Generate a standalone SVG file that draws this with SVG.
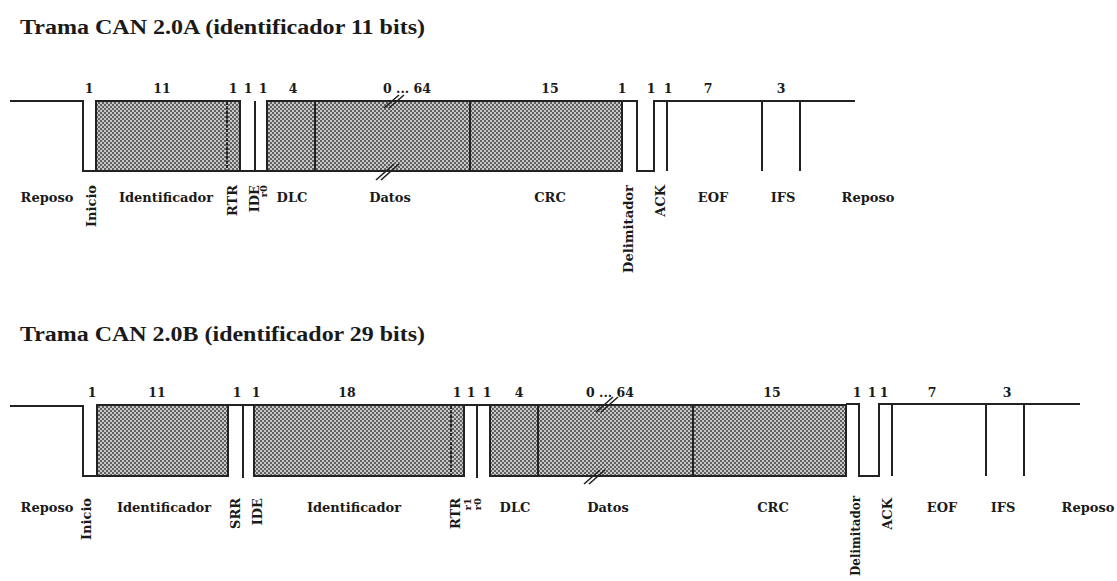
<svg xmlns="http://www.w3.org/2000/svg" width="1117" height="581" viewBox="0 0 1117 581">
<defs>
<pattern id="dots" width="4" height="4" patternUnits="userSpaceOnUse">
<rect width="4" height="4" fill="#c8c8c8"/>
<circle cx="1" cy="1" r="0.95" fill="#333"/>
<circle cx="3" cy="3" r="0.95" fill="#333"/>
</pattern>
</defs>
<style>
.title{font-family:"Liberation Serif","Times New Roman",serif;font-weight:bold;font-size:20px;fill:#1a1a1a}
.num{font-family:"DejaVu Serif","Liberation Serif",serif;font-weight:bold;font-size:12.5px;fill:#1a1a1a;text-anchor:middle}
.lbl{font-family:"DejaVu Serif","Liberation Serif",serif;font-weight:bold;font-size:13px;fill:#1a1a1a;text-anchor:middle}
.rot{font-family:"DejaVu Serif","Liberation Serif",serif;font-weight:bold;font-size:13px;fill:#1a1a1a;text-anchor:end}
.rsm{font-family:"DejaVu Serif","Liberation Serif",serif;font-weight:bold;font-size:10px;fill:#1a1a1a;text-anchor:end}
.box{fill:url(#dots);stroke:#222;stroke-width:2}
.wire{fill:none;stroke:#222;stroke-width:2}
.div{stroke:#222;stroke-width:2}
.dash{stroke:#222;stroke-width:2;stroke-dasharray:3,1.5}
.brk{stroke:#222;stroke-width:1.6}
</style>

<text class="title" x="20" y="34" textLength="405" lengthAdjust="spacingAndGlyphs">Trama CAN 2.0A (identificador 11 bits)</text>
<text class="title" x="20" y="341" textLength="405" lengthAdjust="spacingAndGlyphs">Trama CAN 2.0B (identificador 29 bits)</text>

<g id="frameA-connectors">
<path class="wire" d="M10,101 H83 V171 H267"/>
<line class="div" x1="255" y1="101" x2="255" y2="171"/>
<path class="wire" d="M622,101 H637 V171 H654 V101 H855"/>
<line class="div" x1="667" y1="101" x2="667" y2="171"/>
<line class="div" x1="762" y1="101" x2="762" y2="171"/>
<line class="div" x1="800" y1="101" x2="800" y2="171"/>
</g>
<g id="frameA-ident">
<rect class="box" x="96" y="101" width="144" height="70"/>
<line class="dash" x1="227" y1="102" x2="227" y2="170"/>
</g>
<g id="frameA-data">
<rect class="box" x="267" y="101" width="355" height="70"/>
<line class="div" x1="315" y1="101" x2="315" y2="171"/>
<line class="div" x1="470" y1="101" x2="470" y2="171"/>
<line class="brk" x1="384" y1="108" x2="399" y2="95"/>
<line class="brk" x1="389" y1="108" x2="404" y2="95"/>
<line class="brk" x1="376" y1="180" x2="394" y2="164"/>
<line class="brk" x1="381" y1="180" x2="399" y2="164"/>
</g>
<g id="frameA-numbers">
<text class="num" x="89" y="93">1</text>
<text class="num" x="162" y="93">11</text>
<text class="num" x="233" y="93">1</text>
<text class="num" x="248" y="93">1</text>
<text class="num" x="263" y="93">1</text>
<text class="num" x="293" y="93">4</text>
<text class="num" x="407" y="93">0 ... 64</text>
<text class="num" x="550" y="93">15</text>
<text class="num" x="622" y="93">1</text>
<text class="num" x="651" y="93">1</text>
<text class="num" x="668" y="93">1</text>
<text class="num" x="708" y="93">7</text>
<text class="num" x="781" y="93">3</text>
</g>
<g id="frameA-labels">
<text class="lbl" x="47" y="202">Reposo</text>
<text class="lbl" x="166" y="202">Identificador</text>
<text class="lbl" x="292" y="202">DLC</text>
<text class="lbl" x="390" y="202">Datos</text>
<text class="lbl" x="550" y="202">CRC</text>
<text class="lbl" x="713" y="202">EOF</text>
<text class="lbl" x="783" y="202">IFS</text>
<text class="lbl" x="868" y="202">Reposo</text>
<text class="rot" transform="translate(96,185) rotate(-90)">Inicio</text>
<text class="rot" transform="translate(237,185) rotate(-90)">RTR</text>
<text class="rot" transform="translate(259,185) rotate(-90)">IDE</text>
<text class="rsm" transform="translate(267,185) rotate(-90)">r0</text>
<text class="rot" transform="translate(633,185) rotate(-90)" textLength="88" lengthAdjust="spacingAndGlyphs">Delimitador</text>
<text class="rot" transform="translate(665,185) rotate(-90)">ACK</text>
</g>

<g id="frameB-connectors">
<path class="wire" d="M10,406 H83 V476 H97"/>
<line class="div" x1="228" y1="405" x2="254" y2="405"/>
<line class="div" x1="243" y1="405" x2="243" y2="478"/>
<line class="div" x1="464" y1="405" x2="490" y2="405"/>
<line class="div" x1="477" y1="405" x2="477" y2="478"/>
<path class="wire" d="M846,404 H859 V476 H879 V404 H1080"/>
<line class="div" x1="892" y1="404" x2="892" y2="476"/>
<line class="div" x1="986" y1="404" x2="986" y2="476"/>
<line class="div" x1="1024" y1="404" x2="1024" y2="476"/>
</g>
<g id="frameB-ident1">
<rect class="box" x="97" y="405" width="131" height="71"/>
</g>
<g id="frameB-ident2">
<rect class="box" x="254" y="405" width="210" height="71"/>
<line class="dash" x1="451" y1="406" x2="451" y2="475"/>
</g>
<g id="frameB-data">
<rect class="box" x="490" y="405" width="356" height="71"/>
<line class="div" x1="538" y1="405" x2="538" y2="476"/>
<line class="div" x1="693" y1="405" x2="693" y2="476"/>
<line class="brk" x1="596" y1="412" x2="613" y2="397"/>
<line class="brk" x1="601" y1="412" x2="618" y2="397"/>
<line class="brk" x1="584" y1="484" x2="600" y2="470"/>
<line class="brk" x1="589" y1="484" x2="605" y2="470"/>
</g>
<g id="frameB-numbers">
<text class="num" x="92" y="397">1</text>
<text class="num" x="157" y="397">11</text>
<text class="num" x="237" y="397">1</text>
<text class="num" x="256" y="397">1</text>
<text class="num" x="347" y="397">18</text>
<text class="num" x="457" y="397">1</text>
<text class="num" x="471" y="397">1</text>
<text class="num" x="487" y="397">1</text>
<text class="num" x="519" y="397">4</text>
<text class="num" x="610" y="397">0 ... 64</text>
<text class="num" x="772" y="397">15</text>
<text class="num" x="857" y="397">1</text>
<text class="num" x="872" y="397">1</text>
<text class="num" x="884" y="397">1</text>
<text class="num" x="932" y="397">7</text>
<text class="num" x="1007" y="397">3</text>
</g>
<g id="frameB-labels">
<text class="lbl" x="47" y="512">Reposo</text>
<text class="lbl" x="164" y="512">Identificador</text>
<text class="lbl" x="354" y="512">Identificador</text>
<text class="lbl" x="515" y="512">DLC</text>
<text class="lbl" x="608" y="512">Datos</text>
<text class="lbl" x="773" y="512">CRC</text>
<text class="lbl" x="942" y="512">EOF</text>
<text class="lbl" x="1003" y="512">IFS</text>
<text class="lbl" x="1088" y="512">Reposo</text>
<text class="rot" transform="translate(91,498) rotate(-90)">Inicio</text>
<text class="rot" transform="translate(240,498) rotate(-90)">SRR</text>
<text class="rot" transform="translate(262,498) rotate(-90)">IDE</text>
<text class="rot" transform="translate(460,498) rotate(-90)">RTR</text>
<text class="rsm" transform="translate(471,498) rotate(-90)">r1</text>
<text class="rsm" transform="translate(481,498) rotate(-90)">r0</text>
<text class="rot" transform="translate(860,496) rotate(-90)" textLength="80" lengthAdjust="spacingAndGlyphs">Delimitador</text>
<text class="rot" transform="translate(892,498) rotate(-90)">ACK</text>
</g>
</svg>
